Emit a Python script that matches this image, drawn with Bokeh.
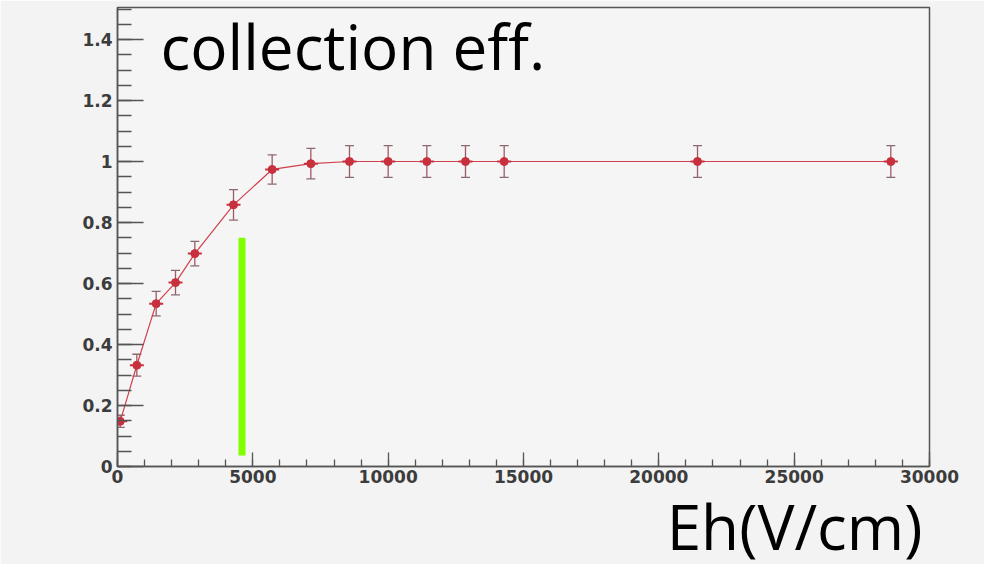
from bokeh.plotting import figure
from bokeh.models import (ColumnDataSource, Whisker, TeeHead, Label, FixedTicker,
                          CustomJSTickFormatter, Range1d, Title)
from bokeh.embed import file_html
from bokeh.resources import INLINE

# Hole collection efficiency versus field strength
field = [100, 714, 1429, 2143, 2857, 4286, 5714, 7143, 8571, 10000,
         11429, 12857, 14286, 21429, 28571]
efficiency = [0.148, 0.332, 0.534, 0.603, 0.698, 0.858, 0.974, 0.993, 1.0, 1.0,
              1.0, 1.0, 1.0, 1.0, 1.0]
eff_error = [0.02, 0.036, 0.04, 0.04, 0.04, 0.05, 0.048, 0.05, 0.052, 0.052,
             0.052, 0.052, 0.052, 0.052, 0.052]

# Vertical marker bar
bar_x = [4600]
bar_bottom = [0.036]
bar_top = [0.75]

y_ticks = [0, 0.2, 0.4, 0.6, 0.8, 1.0, 1.2, 1.4]
y_minor = [i * 0.05 for i in range(31)]
x_ticks = [0, 5000, 10000, 15000, 20000, 25000, 30000]
x_minor = [i * 1000 for i in range(31)]

src = ColumnDataSource(dict(
    x=field, y=efficiency,
    lo=[v - e for v, e in zip(efficiency, eff_error)],
    hi=[v + e for v, e in zip(efficiency, eff_error)],
))

p = figure(width=984, height=564, output_backend="svg", toolbar_location=None,
           x_range=Range1d(0, 30000), y_range=Range1d(0, 1.505),
           min_border_left=117, min_border_right=55, min_border_top=7,
           min_border_bottom=98)

p.background_fill_color = "#f5f5f5"
p.border_fill_color = "#f3f3f3"
p.outline_line_color = "#555555"
p.outline_line_width = 1.5
p.grid.visible = False

for ax in (p.xaxis[0], p.yaxis[0]):
    ax.axis_line_color = "#555555"
    ax.axis_line_width = 1.5
    ax.major_tick_line_color = "#555555"
    ax.minor_tick_line_color = "#555555"
    ax.major_tick_line_width = 1.3
    ax.minor_tick_line_width = 1.3
    ax.major_tick_out = 0
    ax.minor_tick_out = 0
    ax.major_label_text_font = "DejaVu Sans"
    ax.major_label_text_font_style = "bold"
    ax.major_label_text_font_size = "17px"
    ax.major_label_text_color = "#3c3c3c"

p.yaxis.ticker = FixedTicker(ticks=y_ticks, minor_ticks=y_minor)
p.yaxis.formatter = CustomJSTickFormatter(code="return Number(tick.toFixed(2)).toString();")
p.yaxis.major_tick_in = 26
p.yaxis.minor_tick_in = 14
p.yaxis.major_label_standoff = 5

p.xaxis.ticker = FixedTicker(ticks=x_ticks, minor_ticks=x_minor)
p.xaxis.formatter = CustomJSTickFormatter(code="return tick.toFixed(0);")
p.xaxis.major_tick_in = 14
p.xaxis.minor_tick_in = 7
p.xaxis.major_label_standoff = 3

# green vertical bar
p.vbar(x=bar_x, bottom=bar_bottom, top=bar_top, width=260,
       fill_color="#80ff00", line_color=None)

# connecting line, error bars and markers
p.line("x", "y", source=src, line_color="#d0404c", line_width=1.2)
p.add_layout(Whisker(source=src, base="x", lower="lo", upper="hi",
                     line_color="#a05a66", line_width=1.3,
                     upper_head=TeeHead(size=9, line_color="#8a6a70", line_width=1.3),
                     lower_head=TeeHead(size=9, line_color="#8a6a70", line_width=1.3)))
p.scatter("x", "y", source=src, marker="dash", size=14, line_color="#c8303e",
          line_width=2)
p.scatter("x", "y", source=src, marker="circle", size=8, fill_color="#c8303e",
          line_color="#c8303e")

p.add_layout(Label(x=1590, y=1.38, text="collection eff.", text_font="Open Sans",
                   text_font_size="62px", text_color="black",
                   text_baseline="alphabetic"))

# axis caption, right-aligned under the x axis
p.add_layout(Title(text="Eh(V/cm)", align="right", text_font="Open Sans",
                   text_font_size="62px", text_font_style="normal",
                   text_color="black", standoff=-8, offset=7), "below")

open("out.html", "w").write(file_html(p, INLINE))
